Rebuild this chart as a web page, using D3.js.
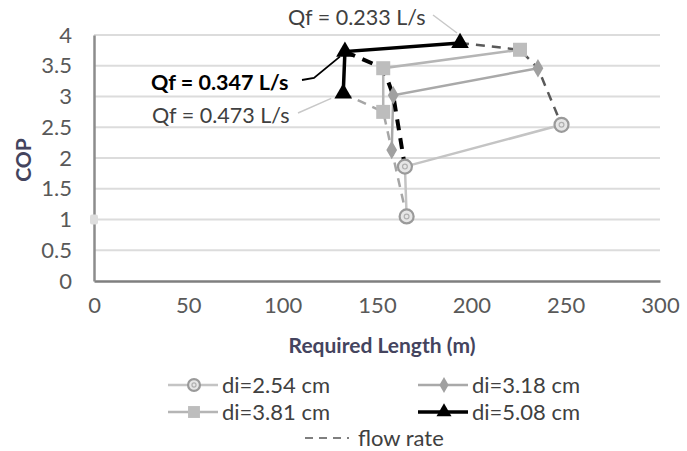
<!DOCTYPE html>
<html>
<head>
<meta charset="utf-8">
<script src="https://cdn.jsdelivr.net/npm/d3@7"></script>
<style>
  html, body { margin: 0; padding: 0; background: #fff; }
  svg { display: block; font-family: Lato, "Open Sans", sans-serif; }
</style>
</head>
<body>
<svg id="chart" width="687" height="451"></svg>
<script>
// Axis ticks
const xTicks = [0, 50, 100, 150, 200, 250, 300];
const yTicks = [0, 0.5, 1, 1.5, 2, 2.5, 3, 3.5, 4];

// Flow rates, in the order the points appear in every series below
const flowRates = ["0.473", "0.347", "0.233"];

// Required length (m) and COP for each pipe inner diameter
const lengthD254 = [165.7, 164.8, 247.8];
const copD254    = [1.05, 1.86, 2.54];
const lengthD318 = [157.8, 158.6, 235.3];
const copD318    = [2.13, 3.02, 3.46];
const lengthD381 = [153.3, 153.3, 225.8];
const copD381    = [2.75, 3.46, 3.76];
const lengthD508 = [132.1, 133.0, 194.0];
const copD508    = [3.05, 3.73, 3.87];

// Lone point sitting on the COP axis
const axisPointLength = [0];
const axisPointCop = [1];

const FONT = 22;
const svg = d3.select("#chart");
const x = d3.scaleLinear().domain([0, 300]).range([94, 660]);
const y = d3.scaleLinear().domain([0, 4]).range([281, 35]);

// Gridlines
svg.append("g").selectAll("line").data(yTicks.filter(d => d > 0)).join("line")
  .attr("x1", x(0)).attr("x2", x(300))
  .attr("y1", d => y(d)).attr("y2", d => y(d))
  .attr("stroke", "#dcdcdc").attr("stroke-width", 2);

// Axes
const xAxis = svg.append("g").attr("transform", `translate(0,${y(0)})`)
  .call(d3.axisBottom(x).tickValues(xTicks).tickSize(0).tickPadding(16));
const yAxis = svg.append("g").attr("transform", `translate(${x(0)},0)`)
  .call(d3.axisLeft(y).tickValues(yTicks).tickSize(0).tickPadding(22)
    .tickFormat(d => String(d)));
xAxis.select(".domain").attr("stroke", "#7f7f7f").attr("stroke-width", 2.5);
yAxis.select(".domain").attr("stroke", "#8c8c8c").attr("stroke-width", 2.5);
[xAxis, yAxis].forEach(a => a.selectAll("text")
  .attr("fill", "#595959").style("font-size", FONT + "px")
  .style("font-family", "Lato, 'Open Sans', sans-serif"));

// Axis titles
svg.append("text").attr("x", 382).attr("y", 353).attr("text-anchor", "middle")
  .attr("fill", "#44445e").style("font-size", "21px").style("font-weight", "bold")
  .text("Required Length (m)");
svg.append("text").attr("transform", "translate(31,160) rotate(-90)")
  .attr("text-anchor", "middle")
  .attr("fill", "#44445e").style("font-size", "21px").style("font-weight", "bold")
  .text("COP");

const line = d3.line().x(d => x(d[0])).y(d => y(d[1]));
const pts = (xs, ys) => xs.map((v, i) => [v, ys[i]]);

const series = [
  { name: "di=2.54 cm", pts: pts(lengthD254, copD254), color: "#c4c4c4", width: 2.5, marker: "circle", mColor: "#9a9a9a" },
  { name: "di=3.18 cm", pts: pts(lengthD318, copD318), color: "#a9a9a9", width: 2.5, marker: "diamond", mColor: "#a0a0a0" },
  { name: "di=3.81 cm", pts: pts(lengthD381, copD381), color: "#b5b5b5", width: 2.5, marker: "square", mColor: "#bdbdbd" },
  { name: "di=5.08 cm", pts: pts(lengthD508, copD508), color: "#000000", width: 3.5, marker: "triangle", mColor: "#000000" }
];

// Series lines
series.forEach(s => {
  svg.append("path").attr("d", line(s.pts)).attr("fill", "none")
    .attr("stroke", s.color).attr("stroke-width", s.width);
});

// Constant flow-rate lines join the same flow rate across diameters
const flowStyle = [
  { color: "#a6a6a6", width: 2.5, dash: "9,7" },
  { color: "#000000", width: 4, dash: "11,8" },
  { color: "#595959", width: 2.5, dash: "9,7" }
];
flowRates.forEach((q, i) => {
  const p = [series[3], series[2], series[1], series[0]].map(s => s.pts[i]);
  svg.append("path").attr("d", line(p)).attr("fill", "none")
    .attr("stroke", flowStyle[i].color).attr("stroke-width", flowStyle[i].width)
    .attr("stroke-dasharray", flowStyle[i].dash);
});

// Markers
function drawMarker(g, type, cx, cy, color, scale) {
  const k = scale || 1;
  if (type === "circle") {
    g.append("circle").attr("cx", cx).attr("cy", cy).attr("r", 7 * k)
      .attr("fill", "#e6e6e6").attr("stroke", color).attr("stroke-width", 2.2);
    g.append("circle").attr("cx", cx).attr("cy", cy).attr("r", 2.4 * k)
      .attr("fill", "none").attr("stroke", "#b0b0b0").attr("stroke-width", 1.2);
  } else if (type === "diamond") {
    g.append("path").attr("d", d3.symbol(d3.symbolDiamond, 100 * k * k)())
      .attr("transform", `translate(${cx},${cy})`).attr("fill", color);
  } else if (type === "square") {
    g.append("rect").attr("x", cx - 7 * k).attr("y", cy - 7 * k)
      .attr("width", 14 * k).attr("height", 14 * k).attr("fill", color);
  } else if (type === "triangle") {
    g.append("path").attr("d", d3.symbol(d3.symbolTriangle, 135 * k * k)())
      .attr("transform", `translate(${cx},${cy})`).attr("fill", color);
  } else if (type === "dot") {
    g.append("rect").attr("x", cx - 4).attr("y", cy - 5)
      .attr("width", 8).attr("height", 10).attr("rx", 2).attr("fill", color);
  }
}
const markerLayer = svg.append("g");
series.forEach(s => s.pts.forEach(p => drawMarker(markerLayer, s.marker, x(p[0]), y(p[1]), s.mColor)));
axisPointLength.forEach((v, i) => drawMarker(markerLayer, "dot", x(v), y(axisPointCop[i]), "#dedede"));

// Flow-rate annotations with leader lines
const d508 = series[3].pts;
const ann = svg.append("g").style("font-size", "21.5px");
ann.append("text").attr("x", 288).attr("y", 25).attr("fill", "#404040")
  .text(`Qf = ${flowRates[2]} L/s`);
ann.append("path").attr("d", `M433,15 L${x(d508[2][0]) - 3},${y(d508[2][1]) - 10}`)
  .attr("stroke", "#c8c8c8").attr("stroke-width", 1.5).attr("fill", "none");
ann.append("text").attr("x", 151).attr("y", 90).attr("fill", "#000")
  .style("font-weight", "bold").text(`Qf = ${flowRates[1]} L/s`);
ann.append("path").attr("d", `M302,80 L314,78 L${x(d508[1][0]) - 5},${y(d508[1][1]) + 5}`)
  .attr("stroke", "#000").attr("stroke-width", 1.8).attr("fill", "none");
ann.append("text").attr("x", 152).attr("y", 123).attr("fill", "#404040")
  .text(`Qf = ${flowRates[0]} L/s`);
ann.append("path").attr("d", `M298,113 L${x(d508[0][0]) - 12},${y(d508[0][1]) + 5}`)
  .attr("stroke", "#c8c8c8").attr("stroke-width", 1.5).attr("fill", "none");

// Legend
const legend = svg.append("g").style("font-size", FONT + "px");
const legendPos = [
  { lx: 168, ly: 385 }, { lx: 418, ly: 385 },
  { lx: 168, ly: 412 }, { lx: 418, ly: 412 }
];
series.forEach((s, i) => {
  const p = legendPos[i];
  legend.append("line").attr("x1", p.lx).attr("x2", p.lx + 50)
    .attr("y1", p.ly).attr("y2", p.ly).attr("stroke", s.color).attr("stroke-width", s.width);
  drawMarker(legend, s.marker, p.lx + 26, p.ly, s.mColor, 0.85);
  legend.append("text").attr("x", p.lx + 54).attr("y", p.ly + 8)
    .attr("fill", "#404040").text(s.name);
});
legend.append("line").attr("x1", 305).attr("x2", 349).attr("y1", 438).attr("y2", 438)
  .attr("stroke", "#7f7f7f").attr("stroke-width", 2).attr("stroke-dasharray", "8,6");
legend.append("text").attr("x", 358).attr("y", 446).attr("fill", "#404040").text("flow rate");
</script>
</body>
</html>
